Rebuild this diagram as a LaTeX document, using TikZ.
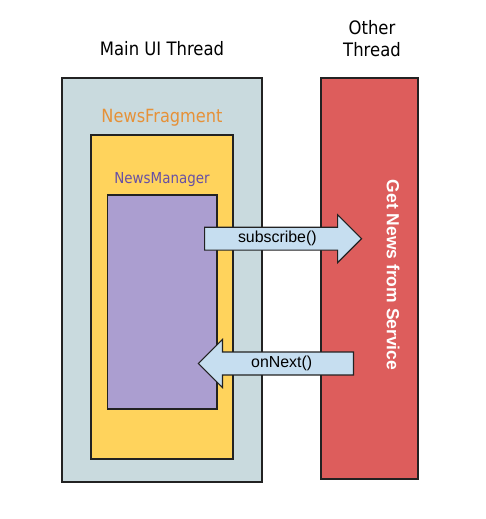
\documentclass[tikz,border=0pt]{standalone}
\usepackage{fontspec}
\setmainfont{DejaVu Sans}[FakeStretch=0.89]
\newfontfamily\arialfont{Liberation Sans}
\usetikzlibrary{shapes.arrows}

\definecolor{mainthread}{RGB}{201,218,222}
\definecolor{fragment}{RGB}{255,211,92}
\definecolor{manager}{RGB}{171,158,208}
\definecolor{service}{RGB}{221,93,92}
\definecolor{callarrow}{RGB}{198,222,240}
\definecolor{fragtext}{RGB}{230,145,56}
\definecolor{mgrtext}{RGB}{103,80,165}
\definecolor{edge}{RGB}{34,34,34}

\begin{document}
\begin{tikzpicture}[x=1pt, y=-1pt,
    box/.style={draw=edge, line width=\w},
    title/.style={font=\fontsize{18.5}{22}\selectfont, align=center},
    call/.style={shape=single arrow, draw=edge, line width=\w, fill=callarrow,
        minimum width=48pt, single arrow head extend=12pt, single arrow head indent=0pt,
        inner sep=3pt, font=\arialfont\fontsize{15.9}{18}\selectfont}]
    \def\w{1.1pt}
    \useasboundingbox (0,0) rectangle (485,519);

    % threads
    \draw[box, fill=mainthread] (62,78) rectangle (262,482);
    \draw[box, fill=service] (321,78) rectangle (418,479);

    \node[title] (mainlabel) at (162,49) {Main UI Thread};
    \node[title] (otherlabel) at (372,38.5) {Other\\Thread};

    % fragment and manager
    \draw[box, fill=fragment] (91,135) rectangle (233,459);
    \node[font=\fontsize{18.2}{20}\selectfont, text=fragtext] (fraglabel) at (162,118) {NewsFragment};

    \draw[box, fill=manager] (107.5,195) rectangle (217,409);
    \node[font=\fontsize{15.1}{17}\selectfont, text=mgrtext] (mgrlabel) at (162,180) {NewsManager};

    \node[rotate=-90, text=white, font=\arialfont\bfseries\fontsize{17.5}{20}\selectfont] (servicelabel) at (393,275) {Get News from Service};

    % calls between threads
    \node[call, minimum height=157pt, anchor=tail] (subscribe) at (204,238.7) {subscribe()};
    \node[call, minimum height=155pt, anchor=tail, shape border rotate=180] (onnext) at (354,363.5) {onNext()};
\end{tikzpicture}
\end{document}
